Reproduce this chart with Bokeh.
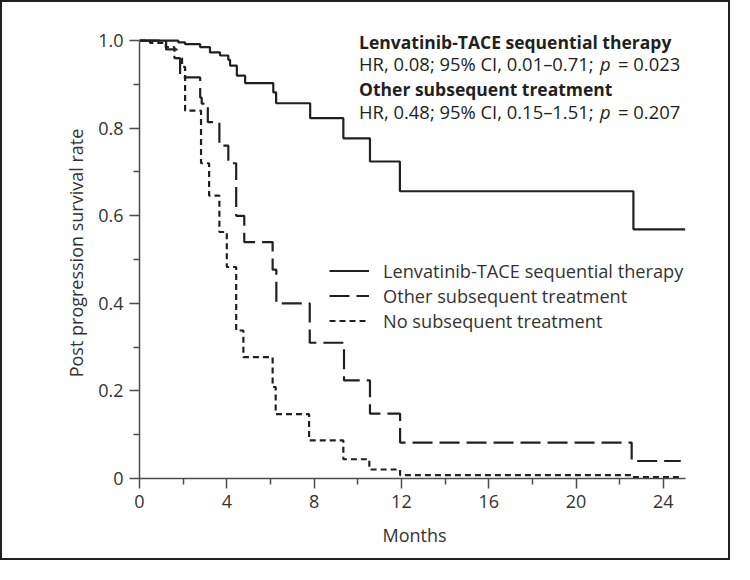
from bokeh.plotting import figure
from bokeh.models import Range1d, FixedTicker, Legend, LegendItem, Label
from bokeh.embed import file_html
from bokeh.resources import INLINE

# ---- data (months, survival probability) ----
lenv_t = [0, 1.78, 2.09, 2.78, 3.23, 3.69, 4.07, 4.15, 4.46, 4.84, 6.13, 6.26, 7.82, 9.34, 10.56, 11.93, 22.63]
lenv_s = [1.0, 0.996, 0.992, 0.985, 0.973, 0.966, 0.956, 0.943, 0.92, 0.903, 0.882, 0.857, 0.823, 0.777, 0.724, 0.656, 0.569]
lenv_end = 25.0

other_t = [0, 1.22, 1.7, 1.86, 2.78, 2.85, 3.13, 3.66, 4.07, 4.43, 4.8, 6.1, 6.27, 7.8, 9.37, 10.56, 11.94, 22.55]
other_s = [1.0, 0.98, 0.96, 0.916, 0.87, 0.856, 0.814, 0.76, 0.72, 0.60, 0.54, 0.477, 0.40, 0.31, 0.224, 0.148, 0.082, 0.04]
other_end = 24.8

none_t = [0, 0.48, 1.2, 1.6, 1.95, 2.09, 2.82, 3.19, 3.66, 4.0, 4.43, 4.76, 6.1, 6.24, 7.77, 9.34, 10.53, 11.94, 22.55]
none_s = [1.0, 0.995, 0.985, 0.96, 0.94, 0.84, 0.72, 0.646, 0.563, 0.483, 0.338, 0.277, 0.209, 0.147, 0.087, 0.044, 0.0205, 0.0075, 0.003]
none_end = 24.8

series_names = ["Lenvatinib-TACE sequential therapy", "Other subsequent treatment", "No subsequent treatment"]

x_ticks = [0, 4, 8, 12, 16, 20, 24]
x_minor = [2, 6, 10, 14, 18, 22]
y_ticks = [0, 0.2, 0.4, 0.6, 0.8, 1.0]
y_minor = [0.1, 0.3, 0.5, 0.7, 0.9]

stat_head1 = "Lenvatinib-TACE sequential therapy"
stat_line1 = ["HR, 0.08; 95% CI, 0.01\u20130.71;", "p", "= 0.023"]
stat_head2 = "Other subsequent treatment"
stat_line2 = ["HR, 0.48; 95% CI, 0.15\u20131.51;", "p", "= 0.207"]

INK = "#231f20"
TXT = "#333333"
AX = "#4d4d4d"
FONT = "Open Sans"

p = figure(width=730, height=560, output_backend="svg", toolbar_location=None,
           x_range=Range1d(0, 25.2), y_range=Range1d(0, 1.03),
           min_border_left=137, min_border_right=43, min_border_top=25, min_border_bottom=84)
p.styles = {"border": "2px solid #231f20"}
p.xgrid.visible = False
p.ygrid.visible = False
p.outline_line_color = None
p.background_fill_color = "white"
p.border_fill_color = "white"

p.xaxis.ticker = FixedTicker(ticks=x_ticks, minor_ticks=x_minor)
p.yaxis.ticker = FixedTicker(ticks=y_ticks, minor_ticks=y_minor)
p.xaxis.bounds = (0, 25)
p.yaxis.bounds = (0, 1)
p.yaxis.major_label_overrides = {0: "0", 1: "1.0"}
p.xaxis.axis_label = "Months"
p.yaxis.axis_label = "Post progression survival rate"

for ax in (p.xaxis[0], p.yaxis[0]):
    ax.axis_line_color = AX
    ax.axis_line_width = 1.5
    ax.major_tick_line_color = AX
    ax.major_tick_line_width = 1.5
    ax.minor_tick_line_color = AX
    ax.minor_tick_line_width = 1.5
    ax.major_tick_in = 0
    ax.major_tick_out = 10
    ax.minor_tick_in = 0
    ax.minor_tick_out = 6
    ax.major_label_text_font = FONT
    ax.major_label_text_font_size = "18px"
    ax.major_label_text_color = TXT
    ax.axis_label_text_font = FONT
    ax.axis_label_text_font_size = "18px"
    ax.axis_label_text_font_style = "normal"
    ax.axis_label_text_color = TXT
p.xaxis.major_label_standoff = 6
p.xaxis.axis_label_standoff = 12
p.yaxis.major_label_standoff = 6
p.yaxis.axis_label_standoff = 7

r1 = p.step(x=lenv_t + [lenv_end], y=lenv_s + [lenv_s[-1]], mode="after",
            line_color=INK, line_width=2.2)
r2 = p.step(x=other_t + [other_end], y=other_s + [other_s[-1]], mode="after",
            line_color=INK, line_width=2.2, line_dash="20 7")
r3 = p.step(x=none_t + [none_end], y=none_s + [none_s[-1]], mode="after",
            line_color=INK, line_width=2.2, line_dash="6 4")

legend = Legend(items=[LegendItem(label=series_names[0], renderers=[r1]),
                       LegendItem(label=series_names[1], renderers=[r2]),
                       LegendItem(label=series_names[2], renderers=[r3])],
                location=(190, 145), padding=0, margin=0, spacing=0,
                glyph_width=40, glyph_height=25, label_height=25, label_standoff=14,
                border_line_color=None, background_fill_alpha=0,
                label_text_font=FONT, label_text_font_size="18.2px", label_text_color=TXT)
p.add_layout(legend)

tx = 10.06
rows_y = [0.998, 0.948, 0.890, 0.838]

def lab(x, y, text, style="normal", xoff=0, size="18.4px"):
    p.add_layout(Label(x=x, y=y, x_offset=xoff, text=text, text_font=FONT,
                       text_font_size=size, text_font_style=style, text_color=INK,
                       text_baseline="middle", text_align="left"))

lab(tx, rows_y[0], stat_head1, "bold", size="17.5px")
lab(tx, rows_y[2], stat_head2, "bold", size="17.5px")
for y, parts in ((rows_y[1], stat_line1), (rows_y[3], stat_line2)):
    lab(tx, y, parts[0])
    lab(tx, y, parts[1], "italic", xoff=241)
    lab(tx, y, parts[2], xoff=259)

open("out.html", "w").write(file_html(p, INLINE))
